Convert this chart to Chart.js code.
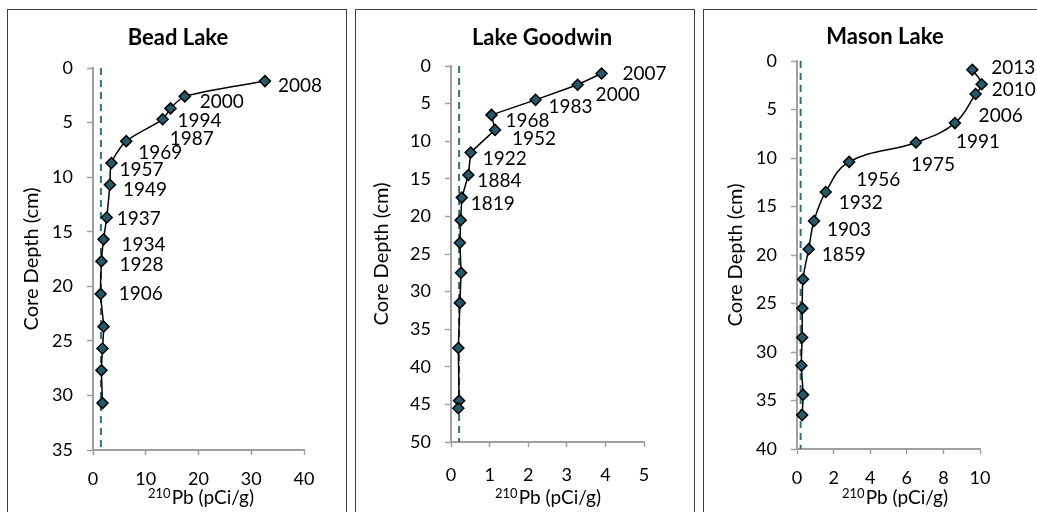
<!DOCTYPE html>
<html>
<head>
<meta charset="utf-8">
<script src="https://cdn.jsdelivr.net/npm/chart.js@4.4.0/dist/chart.umd.min.js"></script>
<style>
  html, body { margin: 0; padding: 0; background: #fff; overflow: hidden; }
  body { width: 1037px; height: 512px; position: relative; }
  .panel { position: absolute; top: 9px; width: 340px; height: 530px; border: 1px solid #404040; box-sizing: border-box; }
  .panel canvas { position: absolute; left: 0; top: 0; }
</style>
</head>
<body>
<div class="panel" style="left:7px"><canvas id="bead" width="338" height="502"></canvas></div>
<div class="panel" style="left:355px"><canvas id="goodwin" width="338" height="502"></canvas></div>
<div class="panel" style="left:703px"><canvas id="mason" width="338" height="502"></canvas></div>
<script>
// 210Pb profiles for three lakes

// Bead Lake
const beadPb = [32.6, 17.4, 14.7, 13.2, 6.3, 3.5, 3.2, 2.6, 2.0, 1.6, 1.45, 2.0, 1.8, 1.6, 1.8];
const beadDepth = [1.2, 2.6, 3.7, 4.7, 6.7, 8.7, 10.7, 13.7, 15.7, 17.7, 20.7, 23.7, 25.7, 27.7, 30.7];
const beadYears = ['2008', '2000', '1994', '1987', '1969', '1957', '1949', '1937', '1934', '1928', '1906'];
const beadSupported = [1.5];
const beadXTicks = [0, 10, 20, 30, 40];
const beadYTicks = [0, 5, 10, 15, 20, 25, 30, 35];

// Lake Goodwin
const goodwinPb = [3.90, 3.28, 2.19, 1.05, 1.14, 0.51, 0.45, 0.28, 0.25, 0.23, 0.26, 0.23, 0.19, 0.21, 0.19];
const goodwinDepth = [1.0, 2.5, 4.5, 6.5, 8.5, 11.5, 14.5, 17.5, 20.5, 23.5, 27.5, 31.5, 37.5, 44.5, 45.5];
const goodwinYears = ['2007', '2000', '1983', '1968', '1952', '1922', '1884', '1819'];
const goodwinSupported = [0.21];
const goodwinXTicks = [0, 1, 2, 3, 4, 5];
const goodwinYTicks = [0, 5, 10, 15, 20, 25, 30, 35, 40, 45, 50];

// Mason Lake
const masonPb = [9.58, 10.09, 9.76, 8.63, 6.5, 2.85, 1.57, 0.93, 0.64, 0.33, 0.29, 0.28, 0.24, 0.33, 0.28];
const masonDepth = [0.9, 2.4, 3.4, 6.4, 8.4, 10.4, 13.5, 16.5, 19.4, 22.5, 25.5, 28.5, 31.4, 34.4, 36.5];
const masonYears = ['2013', '2010', '2006', '1991', '1975', '1956', '1932', '1903', '1859'];
const masonSupported = [0.2];
const masonXTicks = [0, 2, 4, 6, 8, 10];
const masonYTicks = [0, 5, 10, 15, 20, 25, 30, 35, 40];

const FONT = 'Lato, "Open Sans", sans-serif';
const AXIS_GREY = '#a0a0a0';
const MARKER_FILL = '#225a6b';
const DASH_COLOR = '#2f7184';

// label nudges (px) relative to each marker, left edge / vertical centre of text
const beadLabelOffsets = [[13, 5], [15, 5], [7, 12], [7, 20], [12, 12], [8, 7], [13, 5], [10, 1], [18, 6], [18, 4], [18, 0]];
const goodwinLabelOffsets = [[21, 0], [18, 10], [13, 7], [14, 6], [17, 9], [12, 6], [9, 6], [9, 6]];
const masonLabelOffsets = [[19, -2], [10, 6], [3, 22], [1, 19], [-5, 22], [7, 18], [13, 11], [13, 9], [13, 6]];

function textPlugin(cfg) {
  return {
    id: 'panelText',
    afterDatasetsDraw(chart) {
      const ctx = chart.ctx;
      const xs = chart.scales.x, ys = chart.scales.y;
      const area = chart.chartArea;
      ctx.save();
      ctx.fillStyle = '#000';

      // chart title
      ctx.textAlign = 'center';
      ctx.textBaseline = 'middle';
      ctx.font = 'bold 22px ' + FONT;
      ctx.fillText(cfg.title, cfg.titlePos[0], cfg.titlePos[1]);

      // x axis title with superscript mass number
      ctx.textAlign = 'left';
      ctx.textBaseline = 'alphabetic';
      ctx.font = '13px ' + FONT;
      const supW = ctx.measureText('210').width;
      ctx.font = '19px ' + FONT;
      const mainW = ctx.measureText('Pb (pCi/g)').width;
      const cx = (area.left + area.right) / 2 + cfg.xTitleShift;
      const x0 = cx - (supW + mainW) / 2;
      const base = cfg.xTitleBase;
      ctx.font = '13px ' + FONT;
      ctx.fillText('210', x0, base - 6);
      ctx.font = '19px ' + FONT;
      ctx.fillText('Pb (pCi/g)', x0 + supW + 1, base);

      // year labels next to the markers
      ctx.textBaseline = 'middle';
      ctx.font = '19px ' + FONT;
      cfg.years.forEach((yr, i) => {
        const px = xs.getPixelForValue(cfg.pb[i]);
        const py = ys.getPixelForValue(cfg.depth[i]);
        ctx.fillText(yr, px + cfg.offsets[i][0], py + cfg.offsets[i][1]);
      });
      ctx.restore();
    }
  };
}

function buildPanel(id, cfg) {
  const canvas = document.getElementById(id);
  const H = canvas.height, W = canvas.width;
  const area = cfg.area; // left, right, top, bottom inside the canvas
  const points = cfg.pb.map((v, i) => ({ x: v, y: cfg.depth[i] }));
  const yMax = cfg.yTicks[cfg.yTicks.length - 1];
  const supported = [{ x: cfg.supported[0], y: 0 }, { x: cfg.supported[0], y: yMax }];

  return new Chart(canvas, {
    type: 'scatter',
    data: {
      datasets: [{
        data: points,
        showLine: true,
        borderColor: '#000',
        borderWidth: 1.5,
        tension: cfg.tension,
        pointStyle: 'rectRot',
        pointRadius: 5.5,
        pointBorderWidth: 1.5,
        pointBorderColor: '#000',
        pointBackgroundColor: MARKER_FILL,
        clip: false
      }, {
        data: supported,
        showLine: true,
        borderColor: DASH_COLOR,
        borderWidth: 2,
        borderDash: [7, 5],
        pointRadius: 0,
        clip: false
      }]
    },
    options: {
      responsive: false,
      animation: false,
      devicePixelRatio: 1,
      layout: { padding: { left: 0, top: area.top, right: W - area.right, bottom: 0 } },
      elements: { line: { capBezierPoints: false } },
      plugins: { legend: { display: false }, tooltip: { enabled: false }, title: { display: false } },
      scales: {
        x: {
          type: 'linear',
          min: cfg.xTicks[0],
          max: cfg.xTicks[cfg.xTicks.length - 1],
          afterFit: s => { s.height = H - area.bottom; },
          afterBuildTicks: s => { s.ticks = cfg.xTicks.map(v => ({ value: v })); },
          border: { display: true, color: AXIS_GREY, width: 2 },
          grid: { drawOnChartArea: false, drawTicks: true, tickLength: 5, color: AXIS_GREY, tickWidth: 1.5 },
          ticks: { color: '#000', font: { family: FONT, size: 18 }, padding: cfg.xTickPad, maxRotation: 0 }
        },
        y: {
          type: 'linear',
          reverse: true,
          min: 0,
          max: yMax,
          afterFit: s => { s.width = area.left; },
          afterBuildTicks: s => { s.ticks = cfg.yTicks.map(v => ({ value: v })); },
          border: { display: true, color: AXIS_GREY, width: 2 },
          grid: { drawOnChartArea: false, drawTicks: true, tickLength: 6, color: AXIS_GREY, tickWidth: 1.5 },
          ticks: { color: '#000', font: { family: FONT, size: 18 }, padding: 14 },
          title: {
            display: true,
            text: 'Core Depth (cm)',
            color: '#000',
            font: { family: FONT, size: 20 },
            padding: { top: cfg.yTitlePad, bottom: 0 }
          }
        }
      }
    },
    plugins: [textPlugin(cfg)]
  });
}

buildPanel('bead', {
  title: 'Bead Lake', titlePos: [170, 28],
  pb: beadPb, depth: beadDepth, years: beadYears, offsets: beadLabelOffsets,
  supported: beadSupported, xTicks: beadXTicks, yTicks: beadYTicks,
  area: { left: 85, right: 296, top: 58, bottom: 440 },
  tension: 0.25, xTickPad: 13, yTitlePad: 12, xTitleShift: 2, xTitleBase: 494
});

buildPanel('goodwin', {
  title: 'Lake Goodwin', titlePos: [186, 28],
  pb: goodwinPb, depth: goodwinDepth, years: goodwinYears, offsets: goodwinLabelOffsets,
  supported: goodwinSupported, xTicks: goodwinXTicks, yTicks: goodwinYTicks,
  area: { left: 95, right: 288, top: 56, bottom: 432 },
  tension: 0, xTickPad: 17, yTitlePad: 14, xTitleShift: 0, xTitleBase: 494
});

buildPanel('mason', {
  title: 'Mason Lake', titlePos: [181, 27],
  pb: masonPb, depth: masonDepth, years: masonYears, offsets: masonLabelOffsets,
  supported: masonSupported, xTicks: masonXTicks, yTicks: masonYTicks,
  area: { left: 93, right: 276, top: 51, bottom: 439 },
  tension: 0.4, xTickPad: 13, yTitlePad: 19.5, xTitleShift: 6, xTitleBase: 494
});
</script>
</body>
</html>
